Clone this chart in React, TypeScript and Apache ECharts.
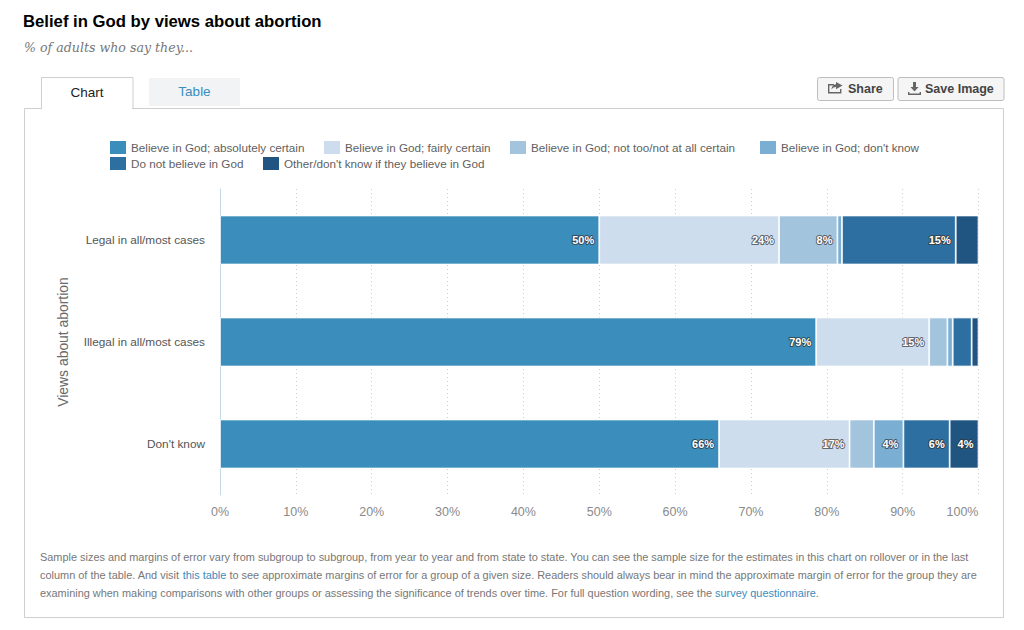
import React, { useEffect, useRef } from "react";
import * as echarts from "echarts";

const categories = ["Legal in all/most cases", "Illegal in all/most cases", "Don't know"];
const seriesNames = [
  "Believe in God; absolutely certain",
  "Believe in God; fairly certain",
  "Believe in God; not too/not at all certain",
  "Believe in God; don't know",
  "Do not believe in God",
  "Other/don't know if they believe in God",
];
const colors = ["#3b8dbb", "#cddded", "#a2c5dd", "#7aaed2", "#2e6fa1", "#1f5580"];
const absolutelyCertain = [50, 78.6, 65.8];
const fairlyCertain = [23.7, 14.9, 17.2];
const notTooCertain = [7.7, 2.4, 3.2];
const godDontKnow = [0.6, 0.7, 3.9];
const doNotBelieve = [15, 2.5, 6.1];
const otherDontKnow = [3, 0.9, 3.8];
const seriesValues = [absolutelyCertain, fairlyCertain, notTooCertain, godDontKnow, doNotBelieve, otherDontKnow];
const legendSpots = [
  [110, 141], [324, 141], [510, 141], [760, 141], [110, 157], [263, 157],
];

const FONT = '"Liberation Sans", Arial, sans-serif';
const FOOT = "#777777";
const LINK = "#3a8dbd";

echarts.graphic.registerShape(
  "shareIcon",
  echarts.graphic.extendPath(
    "M0 2H6V3.4H1.4V10H12V7H13.4V11.4H0ZM8 0L14.5 3.6L8 7.2V5C6 5 4.6 5.8 3.4 7.6C3.6 4.6 5.4 2.6 8 2.3Z",
    {}
  )
);
echarts.graphic.registerShape(
  "saveIcon",
  echarts.graphic.extendPath(
    "M5 0H8V5H10.6L6.5 9.4L2.4 5H5ZM0 10H1.4V11.6H11.6V10H13V13H0Z",
    {}
  )
);

export default function App() {
  const ref = useRef<HTMLDivElement>(null);
  useEffect(() => {
    if (!ref.current) return;
    const chart = echarts.init(ref.current, undefined, { renderer: "svg" });
    const footStyle = { fontFamily: FONT, fontSize: 10.93, fill: FOOT };
    chart.setOption({
      animation: false,
      backgroundColor: "#ffffff",
      grid: { left: 220, right: 1024 - 978.5, top: 189, bottom: 630 - 495, containLabel: false },
      legend: seriesNames.map((name, i) => ({
        data: [name],
        left: legendSpots[i][0],
        top: legendSpots[i][1],
        icon: "rect",
        symbolKeepAspect: false,
        itemWidth: 16,
        itemHeight: 13,
        itemGap: 0,
        padding: 0,
        selectedMode: false,
        itemStyle: { borderWidth: 0 },
        textStyle: { fontFamily: FONT, fontSize: 11.7, color: "#5f5f5f" },
      })),
      xAxis: {
        type: "value",
        min: 0,
        max: 100,
        interval: 10,
        axisLine: { show: false },
        axisTick: { show: false },
        splitLine: { show: true, lineStyle: { type: [1, 3], color: "#cccccc", width: 1 } },
        axisLabel: {
          formatter: "{value}%",
          color: "#8a8a8a",
          fontFamily: FONT,
          fontSize: 12.5,
          margin: 10,
          alignMaxLabel: "right",
        },
      },
      yAxis: {
        type: "category",
        inverse: true,
        data: categories,
        name: "Views about abortion",
        nameLocation: "middle",
        nameGap: 150,
        nameTextStyle: { color: "#6a6a6a", fontFamily: FONT, fontSize: 13.9 },
        axisLine: { show: true, lineStyle: { color: "#c5d8e6", width: 1 } },
        axisTick: { show: false },
        axisLabel: { color: "#555555", fontFamily: FONT, fontSize: 11.8, margin: 15 },
      },
      series: seriesNames.map((name, i) => ({
        name,
        type: "bar",
        stack: "total",
        barWidth: 49,
        data: seriesValues[i],
        itemStyle: { color: colors[i], borderColor: "#ffffff", borderWidth: 0.8 },
        label: {
          show: true,
          position: "insideRight",
          distance: 5,
          formatter: (p: any) => (Math.round(p.value) >= 4 ? `${Math.round(p.value)}%` : ""),
          color: "#ffffff",
          fontFamily: "Liberation Sans",
          fontWeight: "bold",
          fontSize: 11,
          textBorderColor: "rgba(50,50,50,0.7)",
          textBorderWidth: 2,
        },
      })),
      graphic: [
        { type: "text", x: 23, y: 13, style: { text: "Belief in God by views about abortion", fontFamily: FONT, fontWeight: "bold", fontSize: 16.7, fill: "#000000" } },
        { type: "text", x: 24, y: 41, style: { text: "% of adults who say they...", fontFamily: '"DejaVu Serif", serif', fontStyle: "italic", fontSize: 12.6, fill: "#777777" } },
        { type: "rect", shape: { x: 24.5, y: 108.5, width: 979, height: 509 }, style: { fill: "none", stroke: "#cfcfcf", lineWidth: 1 } },
        { type: "rect", shape: { x: 149, y: 78, width: 91, height: 28 }, style: { fill: "#f1f3f5" } },
        { type: "text", x: 194.5, y: 91, style: { text: "Table", fontFamily: FONT, fontSize: 13.5, fill: LINK, align: "center", verticalAlign: "middle" } },
        { type: "rect", shape: { x: 42, y: 106, width: 90, height: 4 }, style: { fill: "#ffffff" } },
        { type: "polyline", shape: { points: [[41.5, 109], [41.5, 77.5], [133, 77.5], [133, 109]] }, style: { fill: "none", stroke: "#cfcfcf", lineWidth: 1 } },
        { type: "text", x: 87, y: 92, style: { text: "Chart", fontFamily: FONT, fontSize: 13.5, fill: "#222222", align: "center", verticalAlign: "middle" } },
        { type: "rect", shape: { x: 817.5, y: 77.5, width: 76, height: 23, r: 2 }, style: { fill: "#f5f5f5", stroke: "#bdbdbd", lineWidth: 1 } },
        { type: "shareIcon", x: 828, y: 82, style: { fill: "#666666" } },
        { type: "text", x: 848, y: 88.5, style: { text: "Share", fontFamily: FONT, fontWeight: "bold", fontSize: 12.5, fill: "#444444", verticalAlign: "middle" } },
        { type: "rect", shape: { x: 898, y: 77.5, width: 106, height: 23, r: 2 }, style: { fill: "#f5f5f5", stroke: "#bdbdbd", lineWidth: 1 } },
        { type: "saveIcon", x: 908, y: 82, style: { fill: "#666666" } },
        { type: "text", x: 925, y: 88.5, style: { text: "Save Image", fontFamily: FONT, fontWeight: "bold", fontSize: 12.5, fill: "#444444", verticalAlign: "middle" } },
        { type: "text", x: 40, y: 551, style: { ...footStyle, text: "Sample sizes and margins of error vary from subgroup to subgroup, from year to year and from state to state. You can see the sample size for the estimates in this chart on rollover or in the last" } },
        {
          type: "text", x: 40, y: 569,
          style: {
            ...footStyle,
            text: "column of the table. And visit {l|this table} to see approximate margins of error for a group of a given size. Readers should always bear in mind the approximate margin of error for the group they are",
            rich: { l: { fill: LINK, fontFamily: FONT, fontSize: 10.93 } },
          },
        },
        {
          type: "text", x: 40, y: 587,
          style: {
            ...footStyle,
            text: "examining when making comparisons with other groups or assessing the significance of trends over time. For full question wording, see the {l|survey questionnaire}.",
            rich: { l: { fill: LINK, fontFamily: FONT, fontSize: 10.93 } },
          },
        },
      ],
    });
    return () => chart.dispose();
  }, []);
  return <div ref={ref} style={{ position: "fixed", left: 0, top: 0, width: 1024, height: 630 }} />;
}
